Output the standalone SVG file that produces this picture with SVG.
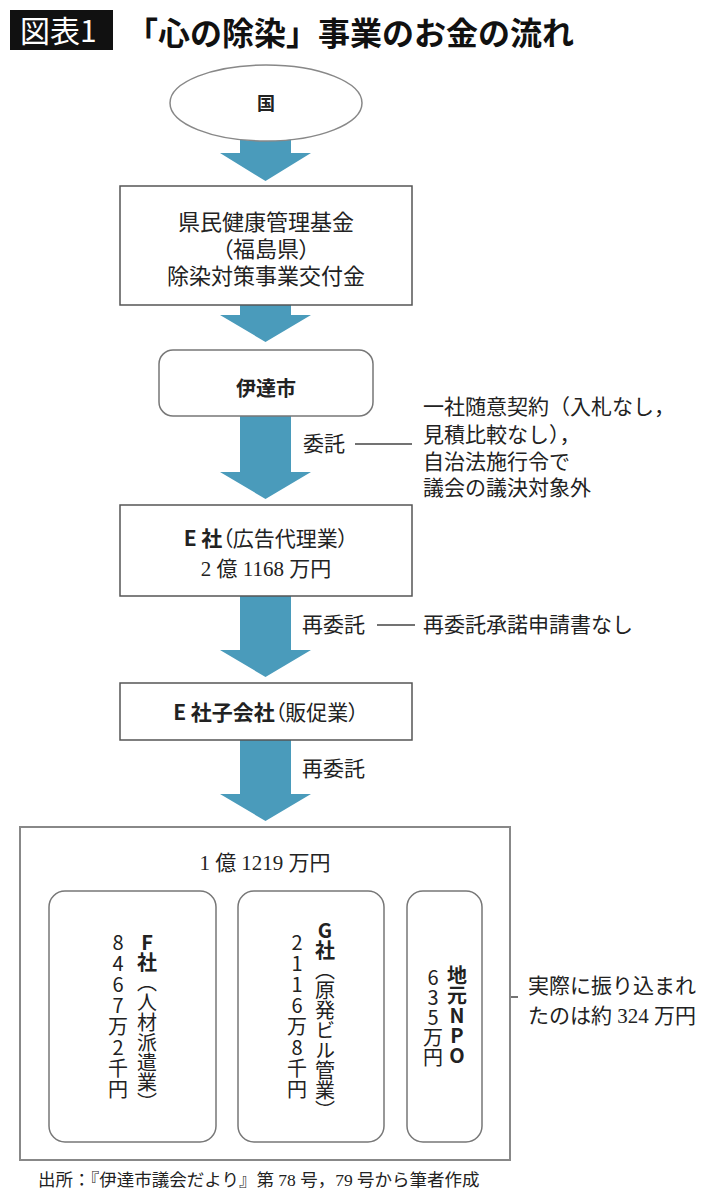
<svg xmlns="http://www.w3.org/2000/svg" width="710" height="1200" viewBox="0 0 710 1200">
<style>
text{font-family:"Noto Sans CJK JP","Noto Sans",sans-serif;fill:#222}
.t{font-size:21px}
.serif{font-family:"Liberation Serif","Noto Sans CJK JP",serif}
.b{font-weight:bold}
.p{font-feature-settings:"palt"}
.box{fill:#fff;stroke:#555;stroke-width:1.5}
.rbox{fill:#fff;stroke:#777;stroke-width:1.5}
.arrow{fill:#4a9bbb}
.lead{stroke:#444;stroke-width:1.3;fill:none}
.v{font-size:20px;writing-mode:vertical-rl;text-orientation:upright}
</style>
<rect width="710" height="1200" fill="#fff"/>
<g id="title">
<rect x="10" y="10" width="103" height="40" fill="#111"/>
<text x="20" y="42" style="font-size:30px;fill:#fff">図表1</text>
<text x="126" y="45" class="b" style="font-size:32px;fill:#111">「心の除染」事業のお金の流れ</text>
</g>
<g id="connectors">
<path class="arrow" d="M240 138H291V153H311L265.5 181L220 153H240Z"/>
<path class="arrow" d="M240 305H291V315H311L265.5 342L220 315H240Z"/>
<path class="arrow" d="M240 416H291V472H311L265.5 499L220 472H240Z"/>
<path class="arrow" d="M240 596H291V650H311L265.5 677L220 650H240Z"/>
<path class="arrow" d="M240 740H291V794H311L265.5 821L220 794H240Z"/>
<line class="lead" x1="355" y1="444" x2="412" y2="444"/>
<line class="lead" x1="377" y1="625" x2="415" y2="625"/>
<line class="lead" x1="482" y1="997" x2="518" y2="997"/>
</g>
<g id="node-kuni">
<ellipse cx="266" cy="103" rx="96" ry="38" fill="#fff" stroke="#888" stroke-width="1.5"/>
<text x="266" y="110" text-anchor="middle" class="b" style="font-size:18px">国</text>
</g>
<g id="node-kikin">
<rect class="box" x="120" y="186" width="292" height="119"/>
<text class="t serif" x="266" y="230" text-anchor="middle" style="font-size:22px">県民健康管理基金</text>
<text class="t serif p" x="266" y="257" text-anchor="middle" style="font-size:22px">（福島県）</text>
<text class="t serif" x="266" y="284" text-anchor="middle" style="font-size:22px">除染対策事業交付金</text>
</g>
<g id="node-date">
<rect class="rbox" x="159" y="350" width="214" height="66" rx="14"/>
<text x="266" y="396" text-anchor="middle" class="b" style="font-size:20px">伊達市</text>
</g>
<g id="label-itaku">
<text class="t serif" x="303" y="451">委託</text>
<text class="t serif" x="423" y="414">一社随意契約（入札なし，</text>
<text class="t serif" x="423" y="442">見積比較なし），</text>
<text class="t serif" x="423" y="469">自治法施行令で</text>
<text class="t serif" x="423" y="495">議会の議決対象外</text>
</g>
<g id="node-e">
<rect class="box" x="120" y="505" width="292" height="91"/>
<text class="t serif p" x="266" y="546" text-anchor="middle"><tspan class="b" style="font-family:'Noto Sans CJK JP',sans-serif">E 社</tspan>（広告代理業）</text>
<text class="t serif" x="266" y="576" text-anchor="middle">2 億 1168 万円</text>
</g>
<g id="label-saiitaku1">
<text class="t serif" x="302" y="632">再委託</text>
<text class="t serif" x="423" y="632">再委託承諾申請書なし</text>
</g>
<g id="node-e-sub">
<rect class="box" x="120" y="683" width="292" height="57"/>
<text class="t serif p" x="266" y="720" text-anchor="middle"><tspan class="b" style="font-family:'Noto Sans CJK JP',sans-serif">E 社子会社</tspan>（販促業）</text>
</g>
<g id="label-saiitaku2">
<text class="t serif" x="302" y="776">再委託</text>
</g>
<g id="node-group">
<rect x="20" y="827" width="490" height="333" fill="#fff" stroke="#888" stroke-width="2"/>
<text class="t serif" x="265" y="870" text-anchor="middle">1 億 1219 万円</text>
</g>
<g id="node-f">
<rect class="rbox" x="49" y="891" width="167" height="251" rx="16"/>
<text class="v" x="147" y="932"><tspan class="b">F社</tspan>（人材派遣業）</text>
<text class="v" x="118" y="932" style="letter-spacing:1px">8467万2千円</text>
</g>
<g id="node-g">
<rect class="rbox" x="238" y="891" width="146" height="251" rx="16"/>
<text class="v" x="325" y="920"><tspan class="b">G社</tspan>（原発ビル管業）</text>
<text class="v" x="297" y="932" style="letter-spacing:1px">2116万8千円</text>
</g>
<g id="node-npo">
<rect class="rbox" x="407" y="891" width="75" height="251" rx="16"/>
<text class="v b" x="457" y="965">地元NPO</text>
<text class="v" x="433" y="967">635万円</text>
</g>
<g id="label-npo">
<text class="t serif" x="528" y="993">実際に振り込まれ</text>
<text class="t serif" x="528" y="1023">たのは約 324 万円</text>
</g>
<g id="footer">
<text class="serif" x="38" y="1186" style="font-size:17.5px">出所：『伊達市議会だより』第 78 号，79 号から筆者作成</text>
</g>
</svg>
